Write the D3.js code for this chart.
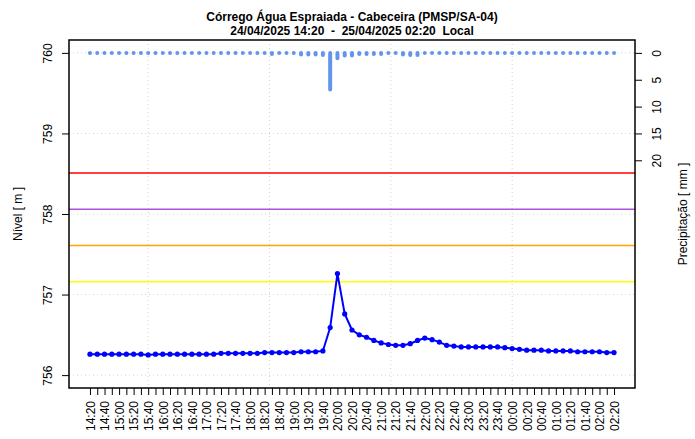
<!DOCTYPE html>
<html>
<head>
  <meta charset="utf-8">
  <script src="https://cdn.jsdelivr.net/npm/d3@7"></script>
  <style>
    body { margin: 0; background: #fff; }
    text { font-family: "Liberation Sans", Arial, sans-serif; }
  </style>
</head>
<body>
  <script>

  var width = 695
  var height = 439
  var margin = {left: 69, right: 60, top: 40, bottom: 51};

  var times = ["14:20","14:30","14:40","14:50","15:00","15:10","15:20","15:30","15:40","15:50",
               "16:00","16:10","16:20","16:30","16:40","16:50","17:00","17:10","17:20","17:30",
               "17:40","17:50","18:00","18:10","18:20","18:30","18:40","18:50","19:00","19:10",
               "19:20","19:30","19:40","19:50","20:00","20:10","20:20","20:30","20:40","20:50",
               "21:00","21:10","21:20","21:30","21:40","21:50","22:00","22:10","22:20","22:30",
               "22:40","22:50","23:00","23:10","23:20","23:30","23:40","23:50","00:00","00:10",
               "00:20","00:30","00:40","00:50","01:00","01:10","01:20","01:30","01:40","01:50",
               "02:00","02:10","02:20"];

  var level = [756.26,756.26,756.26,756.26,756.26,756.26,756.26,756.26,756.25,756.26,
               756.26,756.26,756.26,756.26,756.26,756.26,756.26,756.26,756.27,756.27,
               756.27,756.27,756.27,756.27,756.28,756.28,756.28,756.28,756.28,756.29,
               756.29,756.29,756.30,756.59,757.26,756.76,756.56,756.50,756.47,756.43,
               756.40,756.38,756.37,756.37,756.39,756.43,756.46,756.44,756.41,756.37,
               756.36,756.35,756.35,756.35,756.35,756.35,756.35,756.34,756.33,756.32,
               756.31,756.31,756.31,756.30,756.30,756.30,756.30,756.29,756.29,756.29,
               756.29,756.28,756.28];

  var rain = [0,0,0,0,0,0,0,0,0,0,
              0,0,0,0,0,0,0,0,0,0,
              0,0,0,0,0,0.2,0,0,0,0.3,
              0.3,0.3,0.4,6.8,1.0,0.5,0.5,0.2,0.2,0.2,
              0.2,0,0,0.3,0.4,0.4,0,0,0,0,
              0,0,0,0,0,0,0,0,0,0,
              0,0,0,0,0,0,0,0,0,0,
              0,0,0];

  var thresholds = [758.51, 758.06, 757.61, 757.16];
  var thresholdColors = ["#ff0000", "#b052e0", "#ffa500", "#ffff00"];

  var levelTicks = [756, 757, 758, 759, 760];
  var rainTicks = [0, 5, 10, 15, 20];
  var gridTimes = ["15:40", "18:26:40", "21:13:20", "00:00"];

  // minutes after 14:20 (times after midnight belong to the next day)
  function minutes(t) {
    var p = t.split(":").map(Number);
    var m = p[0] * 60 + p[1] + (p[2] || 0) / 60 - (14 * 60 + 20);
    return m < 0 ? m + 1440 : m;
  }

  var svg = d3.select("body").append("svg")
    .attr("width", width)
    .attr("height", height);

  var x0 = margin.left, x1 = width - margin.right;
  var y0 = height - margin.bottom, y1 = margin.top;

  var x = d3.scaleLinear().domain([-28.8, 748.8]).range([x0, x1]);
  var y = d3.scaleLinear().domain([755.84, 760.16]).range([y0, y1]);
  var yRain = d3.scaleLinear().domain([-2.4, 62.4]).range([y1, y0]);

  // title
  svg.append("text")
    .attr("x", (x0 + x1) / 2).attr("y", 21)
    .attr("text-anchor", "middle")
    .attr("font-size", 12).attr("font-weight", "bold")
    .text("Córrego Água Espraiada - Cabeceira (PMSP/SA-04)");
  svg.append("text")
    .attr("x", (x0 + x1) / 2).attr("y", 35)
    .attr("text-anchor", "middle")
    .attr("font-size", 12).attr("font-weight", "bold")
    .style("white-space", "pre")
    .text("24/04/2025 14:20  -  25/04/2025 02:20  Local");

  // grid
  svg.selectAll(".hgrid")
    .data(levelTicks).enter()
    .append("line")
    .attr("x1", x0).attr("x2", x1)
    .attr("y1", function(d) { return y(d); })
    .attr("y2", function(d) { return y(d); })
    .attr("stroke", "#d3d3d3").attr("stroke-dasharray", "1,3");

  svg.selectAll(".vgrid")
    .data(gridTimes).enter()
    .append("line")
    .attr("x1", function(d) { return x(minutes(d)); })
    .attr("x2", function(d) { return x(minutes(d)); })
    .attr("y1", y1).attr("y2", y0)
    .attr("stroke", "#d3d3d3").attr("stroke-dasharray", "1,3");

  // threshold lines
  svg.selectAll(".thr")
    .data(thresholds).enter()
    .append("line")
    .attr("x1", x0).attr("x2", x1)
    .attr("y1", function(d) { return y(d); })
    .attr("y2", function(d) { return y(d); })
    .attr("stroke", function(d, i) { return thresholdColors[i]; })
    .attr("stroke-width", 1.5);

  // rain bars
  svg.selectAll(".rain")
    .data(rain).enter()
    .append("line")
    .attr("x1", function(d, i) { return x(minutes(times[i])); })
    .attr("x2", function(d, i) { return x(minutes(times[i])); })
    .attr("y1", yRain(0))
    .attr("y2", function(d) { return yRain(d); })
    .attr("stroke", "#6495ed")
    .attr("stroke-width", 4)
    .attr("stroke-linecap", "round");

  // level
  var line = d3.line()
    .x(function(d, i) { return x(minutes(times[i])); })
    .y(function(d) { return y(d); });

  svg.append("path")
    .datum(level)
    .attr("d", line)
    .attr("fill", "none")
    .attr("stroke", "#0000ff")
    .attr("stroke-width", 2);

  svg.selectAll(".pt")
    .data(level).enter()
    .append("circle")
    .attr("cx", function(d, i) { return x(minutes(times[i])); })
    .attr("cy", function(d) { return y(d); })
    .attr("r", 2.6)
    .attr("fill", "#0000ff");

  // axes
  var ax = svg.append("g")
    .attr("transform", "translate(0," + y0 + ")")
    .call(d3.axisBottom(x)
      .tickValues(times.map(minutes))
      .tickSize(7)
      .tickFormat(function(d, i) { return i % 2 === 0 ? times[i] : ""; }));
  ax.select(".domain").remove();
  ax.selectAll("text")
    .attr("transform", "rotate(-90)")
    .attr("text-anchor", "end")
    .attr("x", -13).attr("y", 4.3).attr("dy", null)
    .attr("font-size", 12).attr("fill", "#000")
    .style("font-family", "'Liberation Sans', Arial, sans-serif");

  var ay = svg.append("g")
    .attr("transform", "translate(" + x0 + ",0)")
    .call(d3.axisLeft(y).tickValues(levelTicks).tickSize(7).tickFormat(d3.format("d")));
  ay.select(".domain").remove();
  ay.selectAll("text")
    .attr("transform", "rotate(-90)")
    .attr("text-anchor", "middle")
    .attr("x", 0).attr("y", -17).attr("dy", null)
    .attr("font-size", 12).attr("fill", "#000")
    .style("font-family", "'Liberation Sans', Arial, sans-serif");

  var ar = svg.append("g")
    .attr("transform", "translate(" + x1 + ",0)")
    .call(d3.axisRight(yRain).tickValues(rainTicks).tickSize(7).tickFormat(d3.format("d")));
  ar.select(".domain").remove();
  ar.selectAll("text")
    .attr("transform", "rotate(-90)")
    .attr("text-anchor", "middle")
    .attr("x", 0).attr("y", 26.3).attr("dy", null)
    .attr("font-size", 12).attr("fill", "#000")
    .style("font-family", "'Liberation Sans', Arial, sans-serif");

  // frame
  svg.append("rect")
    .attr("x", x0).attr("y", y1)
    .attr("width", x1 - x0).attr("height", y0 - y1)
    .attr("fill", "none")
    .attr("stroke", "#000")
    .attr("stroke-width", 1.5);

  // axis titles
  svg.append("text")
    .attr("transform", "translate(22," + ((y0 + y1) / 2) + ") rotate(-90)")
    .attr("text-anchor", "middle")
    .attr("font-size", 12)
    .text("Nível [ m ]");

  svg.append("text")
    .attr("transform", "translate(687," + ((y0 + y1) / 2) + ") rotate(-90)")
    .attr("text-anchor", "middle")
    .attr("font-size", 12)
    .text("Precipitação [ mm ]");

  </script>
</body>
</html>
